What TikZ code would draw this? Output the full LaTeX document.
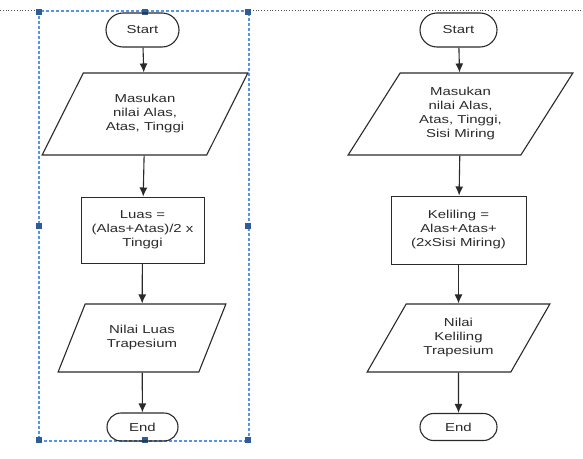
\documentclass[tikz,border=0pt]{standalone}
\usepackage{fontspec}
\setmainfont{Liberation Sans}[FakeStretch=1.3]
\usetikzlibrary{shapes.geometric, shapes.misc, arrows.meta}

\definecolor{garis}{HTML}{2A2A2A}
\definecolor{pilih}{HTML}{4F94EF}
\definecolor{pegangan}{HTML}{2F5C99}

\begin{document}
\begin{tikzpicture}
	[
	x=1pt, y=-1pt, >={Latex[length=9pt, width=8pt]}, line width=1.1pt,
	font=\fontsize{11.5}{14}\selectfont,
	%Vorlagen der Symbole
	terminal/.style={draw=garis, rounded rectangle, text=garis, inner sep=0pt},
	io/.style={draw=garis, trapezium, trapezium left angle=56, trapezium right angle=124,
		trapezium stretches=true, align=center, text=garis, inner sep=0pt},
	proses/.style={draw=garis, rectangle, align=center, text=garis, inner sep=0pt, line width=1pt},
	panah/.style={->, draw=garis},
	pegang/.style={fill=pegangan, minimum size=6pt, inner sep=0pt}
	]
	
	%Rahmen
	\useasboundingbox (0,0) rectangle (583,458);
	
	%Linie oben
	\draw[dotted, black!70, line width=0.8pt] (0,10) -- (39,10);
	\draw[dotted, black!70, line width=0.8pt] (250,10) -- (583,10);
	
	%Auswahlrahmen
	\draw[pilih, line width=1.1pt, dash pattern=on 3pt off 2pt] (39,11) rectangle (249,441);
	\foreach \px/\py in {39/12, 145/12, 248/12, 39/226, 248/226, 39/440, 145/440, 248/440}
		\node[pegang] at (\px,\py) {};
	
	%Luas
	\node[terminal, minimum width=73, minimum height=34] (start1) at (142.5,30) {Start};
	\node[io, minimum width=206, minimum height=82] (input1) at (145,114) {Masukan\\nilai Alas,\\Atas, Tinggi};
	\node[proses, minimum width=123, minimum height=66] (proses1) at (142.5,230) {Luas =\\(Alas+Atas)/2 x\\Tinggi};
	\node[io, minimum width=168, minimum height=68] (output1) at (142,338) {Nilai Luas\\Trapesium};
	\node[terminal, minimum width=71, minimum height=28] (end1) at (142.5,427) {End};
	
	\draw[panah] (start1) -- (input1);
	\draw[panah] (input1) -- (proses1);
	\draw[panah] (proses1) -- (output1);
	\draw[panah] (output1) -- (end1);
	
	%Keliling
	\node[terminal, minimum width=77, minimum height=34] (start2) at (458.5,30) {Start};
	\node[io, minimum width=225, minimum height=82] (input2) at (460.5,114) {Masukan\\nilai Alas,\\Atas, Tinggi,\\Sisi Miring};
	\node[proses, minimum width=135, minimum height=68] (proses2) at (458.5,230) {Keliling =\\Alas+Atas+\\(2xSisi Miring)};
	\node[io, minimum width=183, minimum height=68] (output2) at (458.5,338) {Nilai\\Keliling\\Trapesium};
	\node[terminal, minimum width=77, minimum height=27] (end2) at (458.5,427) {End};
	
	\draw[panah] (start2) -- (input2);
	\draw[panah] (input2) -- (proses2);
	\draw[panah] (proses2) -- (output2);
	\draw[panah] (output2) -- (end2);
\end{tikzpicture}
\end{document}
